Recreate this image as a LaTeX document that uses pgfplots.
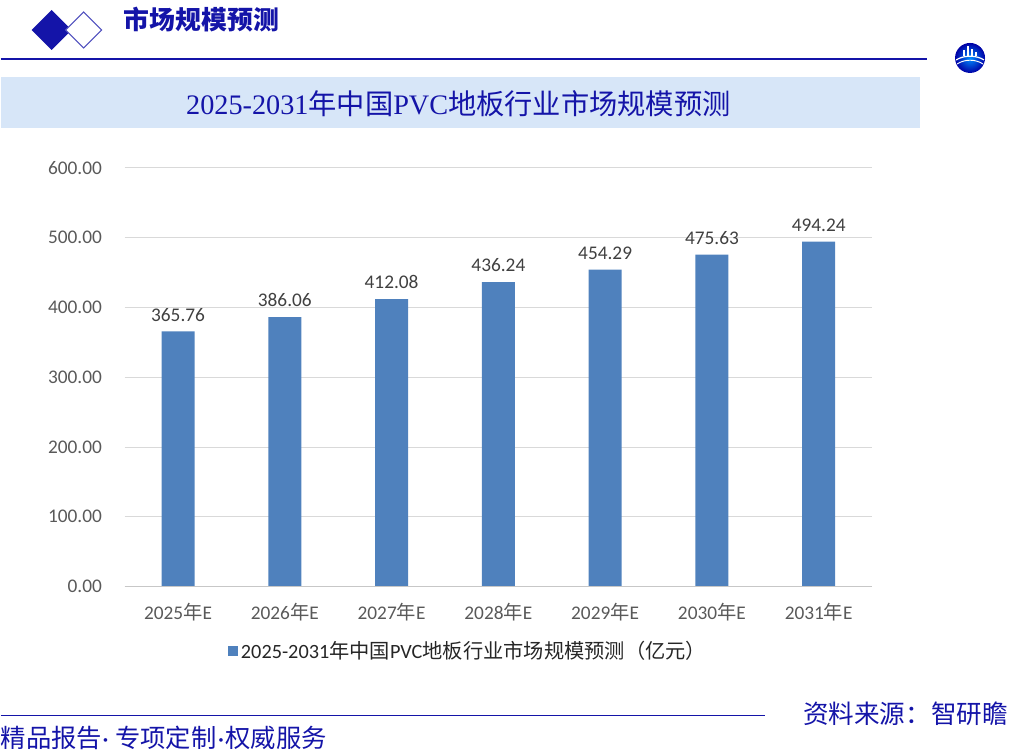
\documentclass[border=0pt]{standalone}
\usepackage{pgfplots}
\pgfplotsset{compat=1.18}
\usepackage{fontspec}
\setmainfont{Carlito}
\newfontfamily\cjk{Noto Sans CJK SC}
\newfontfamily\serifnum{Liberation Serif}
\definecolor{barblue}{HTML}{4F81BD}
\definecolor{navy}{HTML}{1414A8}
\definecolor{band}{HTML}{D7E6F8}
\definecolor{ticktext}{HTML}{595959}
\definecolor{lbltext}{HTML}{404040}
\begin{document}
\begin{tikzpicture}[x=0.75pt,y=-0.75pt]
\path (0,0) rectangle (1012,756);
\coordinate (axorig) at (124,587);
% header
\fill[navy] (31,30) -- (51,10) -- (71,30) -- (51,50) -- cycle;
\filldraw[fill=white, draw=navy!75, line width=0.8pt] (65,30) -- (83,12) -- (101,30) -- (83,48) -- cycle;
\node[anchor=west, inner sep=0pt, text=navy, font=\cjk\bfseries\fontsize{19.4}{22}\selectfont] at (123,20) {市场规模预测};
\draw[navy, line width=1.1pt] (0,59) -- (927,59);
% logo
\shade[inner color=cyan!55!blue, outer color=blue!65!black] (970,58) circle[radius=15];
\fill[white] (963,56) rectangle (965,50);
\fill[white] (967,56) rectangle (969,46);
\fill[white] (971,56) rectangle (973,49);
\fill[white] (975,56) rectangle (977,52);
\draw[white, line width=0.9pt] (956,60) .. controls (964,55) and (976,55) .. (984,60);
\draw[white, line width=0.7pt] (957,64) .. controls (965,59) and (975,59) .. (983,64);
% band title
\fill[band] (0,77) rectangle (920,128);
\node[text=navy, inner sep=0pt, font=\fontsize{21.2}{24}\selectfont] at (458,104) {{\serifnum 2025-2031}{\cjk 年中国}{\serifnum PVC}{\cjk 地板行业市场规模预测}};
% footer
\draw[navy, line width=1pt] (0,716) -- (765,716);
\node[anchor=west, text=navy, font=\fontsize{19}{21}\selectfont, inner sep=0pt] at (0,738) {{\cjk 精品报告}·\hspace{5pt}{\cjk 专项定制}\hspace{1pt}·\hspace{1pt}{\cjk 权威服务}};
\node[anchor=east, text=navy, font=\cjk\fontsize{19.2}{21}\selectfont, inner sep=0pt] at (1008,714) {资料来源：智研瞻};
\begin{axis}[
  at={(axorig)}, anchor=south west, scale only axis,
  width=561pt, height=314.25pt,
  xmin=-0.5, xmax=6.5, ymin=0, ymax=600,
  ybar, bar width=24.75pt,
  xtick={0,...,6},
  xticklabels={2025{\cjk 年}E,2026{\cjk 年}E,2027{\cjk 年}E,2028{\cjk 年}E,2029{\cjk 年}E,2030{\cjk 年}E,2031{\cjk 年}E},
  ytick={0,100,...,600},
  scaled y ticks=false,
  ymajorgrids, grid style={draw=black!15, line width=0.75pt},
  axis line style={draw=none},
  tick style={draw=none},
  y tick label style={font=\fontsize{14.5}{16}\selectfont, text=ticktext, xshift=-13.5pt,
    /pgf/number format/.cd, fixed, fixed zerofill, precision=2, assume math mode=true, /tikz/.cd},
  x tick label style={font=\fontsize{14.5}{16}\selectfont, text=ticktext, yshift=-5pt},
  nodes near coords={\pgfmathprintnumber[fixed,fixed zerofill,precision=2,assume math mode=true]{\pgfplotspointmeta}},
  nodes near coords style={font=\fontsize{14.5}{16}\selectfont, text=lbltext, yshift=4pt},
  legend style={at={(0.133,-0.153)}, anchor=west, draw=none, fill=none,
    font=\fontsize{15.2}{17}\selectfont, text=black!85},
  legend image code/.code={\fill[#1,draw=none] (0pt,-3.75pt) rectangle (7.5pt,3.75pt);},
]
\addplot[fill=barblue, draw=none] coordinates {(0,365.76) (1,386.06) (2,412.08) (3,436.24) (4,454.29) (5,475.63) (6,494.24)};
\addlegendentry{2025-2031{\cjk 年中国}PVC{\cjk 地板行业市场规模预测（亿元）}}
\draw[black!22, line width=0.75pt] (rel axis cs:0,0) -- (rel axis cs:1,0);
\end{axis}
\end{tikzpicture}
\end{document}
